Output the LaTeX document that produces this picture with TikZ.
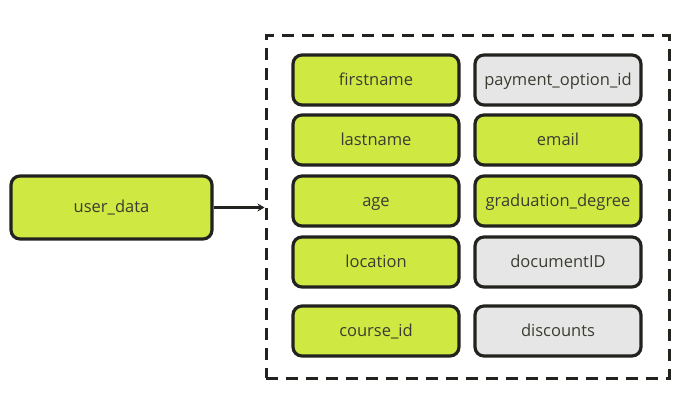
\documentclass[tikz,border=0pt]{standalone}
\usepackage{fontspec}
\setmainfont{Open Sans}
\usetikzlibrary{arrows.meta,positioning}
\definecolor{limefill}{RGB}{208,232,66}
\definecolor{greyfill}{RGB}{230,230,230}
\definecolor{inkline}{RGB}{34,34,30}
\definecolor{inktext}{RGB}{60,60,50}
\tikzset
{
    fieldbox/.style = {rectangle, rounded corners=9pt, draw=inkline, line width=3.2pt, fill=limefill, text=inktext, align=center, minimum width=166pt, minimum height=50pt, text height=12.5pt, text depth=2pt, font=\fontsize{16.5}{19}\selectfont},
    optbox/.style   = {fieldbox, fill=greyfill},
    groupbox/.style = {rectangle, draw=inkline, line width=3pt, dash pattern=on 12pt off 8pt, minimum width=403pt, minimum height=342pt}
}

\begin{document}
\begin{tikzpicture}[x=1pt,y=-1pt]
\useasboundingbox (0,0) rectangle (678,414);
\node [groupbox] at (467.5,207) (group) {};
\node [fieldbox, minimum width=201pt, minimum height=63pt] at (111.5,207.5) (user) {user\_data};
\node [fieldbox] at (376,80) (first) {firstname};
\node [fieldbox] at (376,140) (last) {lastname};
\node [fieldbox] at (376,201) (age) {age};
\node [fieldbox] at (376,262) (loc) {location};
\node [fieldbox] at (376,331) (course) {course\_id};
\node [optbox] at (558,80) (pay) {payment\_option\_id};
\node [fieldbox] at (558,140) (email) {email};
\node [fieldbox] at (558,201) (grad) {graduation\_degree};
\node [optbox] at (558,262) (doc) {documentID};
\node [optbox] at (558,331) (disc) {discounts};
\draw [-{Stealth[length=7pt,width=8pt]}, draw=inkline, line width=2.4pt] (user) -- (user -| group.west);
\end{tikzpicture}
\end{document}
